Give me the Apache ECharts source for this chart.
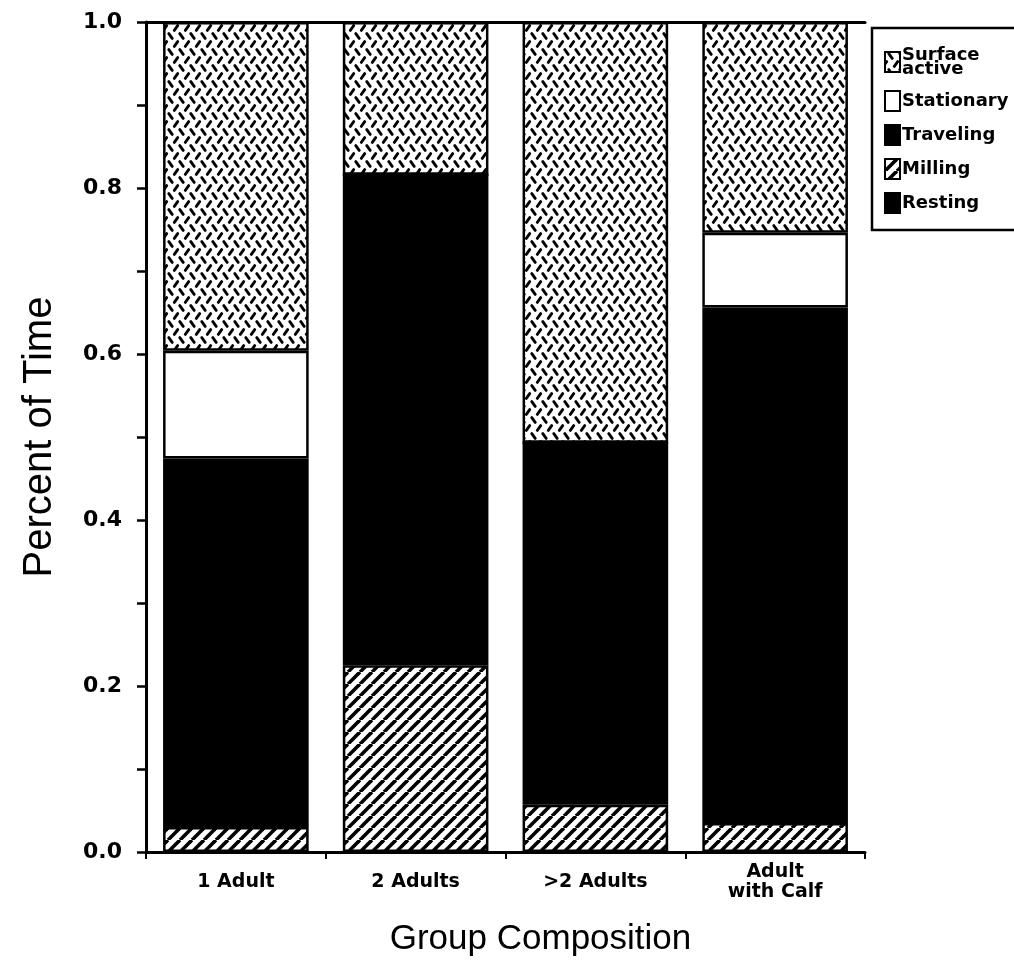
<!DOCTYPE html>
<html>
<head>
<meta charset="utf-8">
<script src="https://cdn.jsdelivr.net/npm/echarts@6/dist/echarts.min.js"></script>
<style>
html,body{margin:0;padding:0;background:#fff;}
#chart{width:1014px;height:963px;}
</style>
</head>
<body>
<div id="chart"></div>
<script>
// ---- data ----
const categories = ['1 Adult', '2 Adults', '>2 Adults', 'Adult\nwith Calf'];
const resting       = [0, 0, 0, 0];
const milling       = [0.030, 0.225, 0.057, 0.035];
const traveling     = [0.444, 0.591, 0.436, 0.621];
const stationary    = [0.130, 0, 0, 0.090];
const surfaceActive = [0.396, 0.184, 0.507, 0.254];
const yTicks = [0, 0.2, 0.4, 0.6, 0.8, 1.0];

// ---- patterns ----
function checkerPlate() {
  const w = 22, h = 16;
  const c = document.createElement('canvas');
  c.width = w; c.height = h;
  const g = c.getContext('2d');
  g.fillStyle = '#fff'; g.fillRect(0, 0, w, h);
  g.strokeStyle = '#000'; g.lineWidth = 2.8; g.lineCap = 'round';
  function dash(cx, cy, dir) {
    const dx = 1.7, dy = 2.4;
    g.beginPath();
    if (dir > 0) { g.moveTo(cx - dx, cy + dy); g.lineTo(cx + dx, cy - dy); }
    else { g.moveTo(cx - dx, cy - dy); g.lineTo(cx + dx, cy + dy); }
    g.stroke();
  }
  // row A: "\" dashes, row B (offset): "/" dashes
  dash(5.5, 4, -1); dash(16.5, 4, -1);
  dash(0, 12, 1); dash(11, 12, 1); dash(22, 12, 1);
  return c;
}
function hatch() {
  const s = 12;
  const c = document.createElement('canvas');
  c.width = s; c.height = s;
  const g = c.getContext('2d');
  g.fillStyle = '#fff'; g.fillRect(0, 0, s, s);
  g.strokeStyle = '#000'; g.lineWidth = 3.6;
  for (const o of [-s, 0, s]) {
    g.beginPath(); g.moveTo(o, s); g.lineTo(o + s, 0); g.stroke();
  }
  return c;
}
const surfacePattern = { image: checkerPlate(), repeat: 'repeat' };
const hatchPattern = { image: hatch(), repeat: 'repeat' };

const chart = echarts.init(document.getElementById('chart'), null, { renderer: 'canvas' });

const border = { borderColor: '#000', borderWidth: 2.5 };
function bar(name, data, color) {
  return {
    name, type: 'bar', stack: 'total', data,
    barWidth: '81%',
    itemStyle: Object.assign({ color }, border),
    emphasis: { disabled: true },
    animation: false
  };
}

chart.setOption({
  animation: false,
  grid: { left: 146, right: 149, top: 22, bottom: 111, containLabel: false, outerBoundsMode: 'none' },
  legend: {
    orient: 'vertical', left: 872, top: 28,
    data: ['Surface active', 'Stationary', 'Traveling', 'Milling', 'Resting'],
    icon: 'rect', itemWidth: 15, itemHeight: 20, itemGap: 12,
    padding: [18, 10, 16, 12],
    borderColor: '#000', borderWidth: 2.5,
    formatter: n => n === 'Surface active' ? 'Surface\nactive' : n,
    textStyle: { fontFamily: 'DejaVu Sans', fontWeight: 'bold', fontSize: 18, lineHeight: 14, color: '#000', padding: [0, 0, 0, -3] },
    selectedMode: false
  },
  xAxis: [{
    type: 'category', data: categories, position: 'bottom',
    axisLine: { lineStyle: { color: '#000', width: 3 } },
    axisTick: { show: true, length: 7, lineStyle: { color: '#000', width: 2 } },
    axisLabel: { color: '#000', fontFamily: 'DejaVu Sans', fontWeight: 'bold', fontSize: 19, lineHeight: 20, margin: 30, verticalAlign: 'middle' },
    name: 'Group Composition', nameLocation: 'middle', nameGap: 70,
    nameTextStyle: { color: '#000', fontFamily: 'Liberation Sans', fontSize: 35, padding: [0, 0, 0, 70] }
  }, {
    type: 'category', data: categories, position: 'top',
    axisLine: { show: true, lineStyle: { color: '#000', width: 3 } },
    axisTick: { show: false }, axisLabel: { show: false }
  }],
  yAxis: {
    type: 'value', min: 0, max: 1, interval: 0.2,
    axisLine: { show: true, lineStyle: { color: '#000', width: 3 } },
    axisTick: { show: true, length: 9, lineStyle: { color: '#000', width: 2.5 } },
    minorTick: { show: true, splitNumber: 2, length: 9, lineStyle: { color: '#000', width: 2.5 } },
    splitLine: { show: false },
    axisLabel: { color: '#000', fontFamily: 'DejaVu Sans', fontWeight: 'bold', fontSize: 22, margin: 24,
      formatter: v => yTicks.includes(+v.toFixed(1)) ? v.toFixed(1) : '' },
    name: 'Percent of Time', nameLocation: 'middle', nameGap: 86,
    nameTextStyle: { color: '#000', fontFamily: 'Liberation Sans', fontSize: 40 }
  },
  series: [
    bar('Resting', resting, '#000'),
    bar('Milling', milling, hatchPattern),
    bar('Traveling', traveling, '#000'),
    bar('Stationary', stationary, '#fff'),
    bar('Surface active', surfaceActive, surfacePattern)
  ]
});
</script>
</body>
</html>
